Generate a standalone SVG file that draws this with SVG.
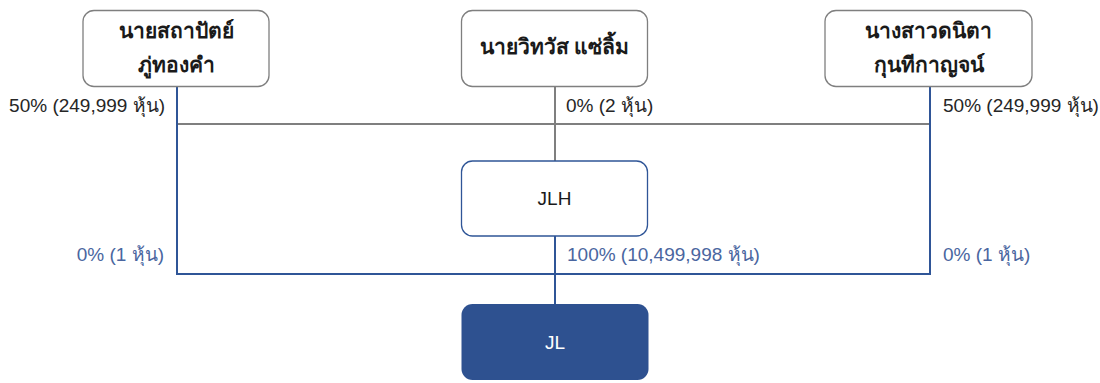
<svg xmlns="http://www.w3.org/2000/svg" width="1100" height="383" viewBox="0 0 1100 383">
<style>
.box{fill:#fff;stroke:#7f7f7f;stroke-width:1.3}
.boxb{fill:#fff;stroke:#2f5597;stroke-width:1.3}
.t{font-family:"Noto Sans","Liberation Sans",sans-serif;font-size:21px;font-weight:bold;fill:#1a1a1a;text-anchor:middle}
.n{font-family:"Liberation Sans","Noto Sans",sans-serif;font-size:19px;fill:#1a1a1a;text-anchor:middle}
.lab{font-family:"Liberation Sans","Noto Sans",sans-serif;font-size:19px;fill:#262626}
.labb{font-family:"Liberation Sans","Noto Sans",sans-serif;font-size:19px;fill:#4a66a0}
.g{stroke:#7f7f7f;stroke-width:2;fill:none}
.b{stroke:#2f5597;stroke-width:2;fill:none}
</style>
<g id="connectors">
<line class="g" x1="177" y1="124" x2="930" y2="124"/>
<line class="g" x1="555" y1="86" x2="555" y2="161"/>
<line class="b" x1="177" y1="86" x2="177" y2="274"/>
<line class="b" x1="930" y1="86" x2="930" y2="274"/>
<line class="b" x1="176" y1="274" x2="931" y2="274"/>
<line class="b" x1="555" y1="236" x2="555" y2="304"/>
<text class="lab" x="165" y="112" text-anchor="end">50% (249,999 หุ้น)</text>
<text class="lab" x="566" y="112">0% (2 หุ้น)</text>
<text class="lab" x="943" y="112">50% (249,999 หุ้น)</text>
<text class="labb" x="164" y="261" text-anchor="end">0% (1 หุ้น)</text>
<text class="labb" x="567" y="261">100% (10,499,998 หุ้น)</text>
<text class="labb" x="943" y="261">0% (1 หุ้น)</text>
</g>
<g id="node-p1">
<rect class="box" x="83" y="10.5" width="186" height="76" rx="11"/>
<text class="t" x="176" y="38">นายสถาปัตย์</text>
<text class="t" x="176" y="72">ภู่ทองคำ</text>
</g>
<g id="node-p2">
<rect class="box" x="461.5" y="10.5" width="186" height="76" rx="11"/>
<text class="t" x="554.5" y="54">นายวิทวัส แซ่ลิ้ม</text>
</g>
<g id="node-p3">
<rect class="box" x="825" y="10.5" width="207" height="76" rx="11"/>
<text class="t" x="928.5" y="38">นางสาวดนิตา</text>
<text class="t" x="928.5" y="72">กุนทีกาญจน์</text>
</g>
<g id="node-jlh">
<rect class="boxb" x="461.5" y="161" width="186" height="75" rx="11"/>
<text class="n" x="554.5" y="205">JLH</text>
</g>
<g id="node-jl">
<rect x="461.5" y="304" width="187" height="76" rx="11" fill="#2e5190"/>
<text class="n" x="555" y="349" style="fill:#fff">JL</text>
</g>
</svg>
